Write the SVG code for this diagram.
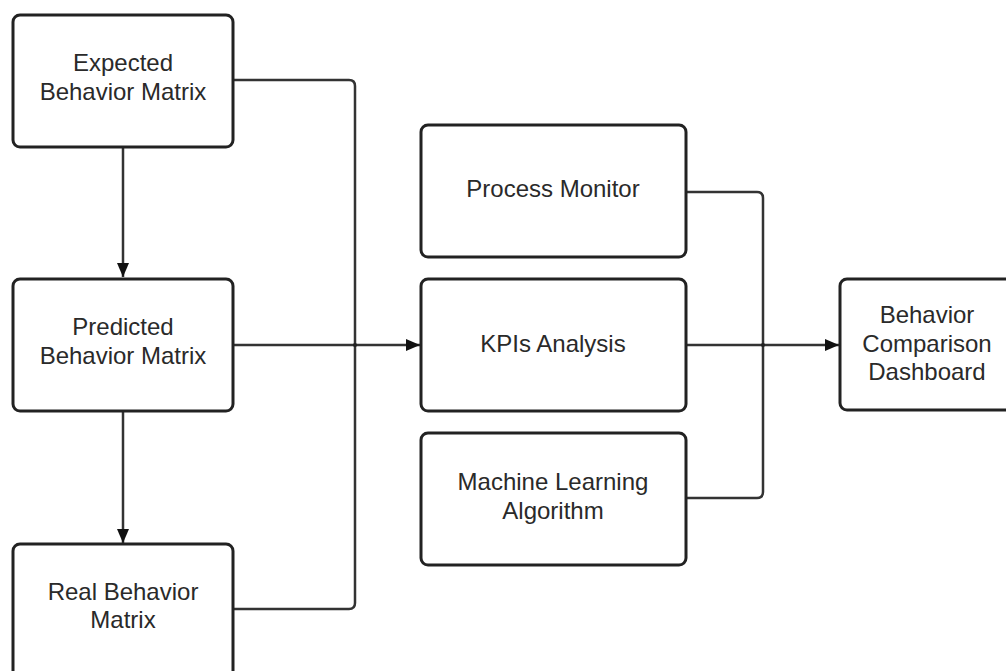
<svg xmlns="http://www.w3.org/2000/svg" width="1006" height="671" viewBox="0 0 1006 671">
<style>
.box{fill:#fff;stroke:#222;stroke-width:3}
.lbl{font-family:"Liberation Sans",Arial,sans-serif;font-size:24px;fill:#2a2a2a;text-anchor:middle}
.wire{fill:none;stroke:#333;stroke-width:2.5}
</style>
<defs>
<marker id="arr" markerWidth="14" markerHeight="12" refX="14" refY="6" orient="auto" markerUnits="userSpaceOnUse">
<path d="M0,0 L14,6 L0,12 Z" fill="#111"/>
</marker>
</defs>
<rect width="1006" height="671" fill="#fff"/>
<g id="connectors">
<path class="wire" d="M123,147 V277" marker-end="url(#arr)"/>
<path class="wire" d="M123,411 V543" marker-end="url(#arr)"/>
<path class="wire" d="M233,80 H349 Q355,80 355,86 V603 Q355,609 349,609 H233"/>
<path class="wire" d="M233,345 H420" marker-end="url(#arr)"/>
<path class="wire" d="M686,192 H757 Q763,192 763,198 V492 Q763,498 757,498 H686"/>
<path class="wire" d="M686,345 H839" marker-end="url(#arr)"/>
<circle cx="355" cy="345" r="2" fill="#222"/>
<circle cx="763" cy="345" r="2" fill="#222"/>
</g>
<g id="expected">
<rect class="box" x="13" y="15" width="220" height="132" rx="7"/>
<text class="lbl" x="123" y="71">Expected</text>
<text class="lbl" x="123" y="100">Behavior Matrix</text>
</g>
<g id="predicted">
<rect class="box" x="13" y="279" width="220" height="132" rx="7"/>
<text class="lbl" x="123" y="335">Predicted</text>
<text class="lbl" x="123" y="364">Behavior Matrix</text>
</g>
<g id="real">
<rect class="box" x="13" y="544" width="220" height="140" rx="7"/>
<text class="lbl" x="123" y="600">Real Behavior</text>
<text class="lbl" x="123" y="628">Matrix</text>
</g>
<g id="process">
<rect class="box" x="421" y="125" width="265" height="132" rx="7"/>
<text class="lbl" x="553" y="197">Process Monitor</text>
</g>
<g id="kpis">
<rect class="box" x="421" y="279" width="265" height="132" rx="7"/>
<text class="lbl" x="553" y="352">KPIs Analysis</text>
</g>
<g id="ml">
<rect class="box" x="421" y="433" width="265" height="132" rx="7"/>
<text class="lbl" x="553" y="490">Machine Learning</text>
<text class="lbl" x="553" y="519">Algorithm</text>
</g>
<g id="dashboard">
<rect class="box" x="840" y="279" width="176" height="131" rx="7"/>
<text class="lbl" x="927" y="323">Behavior</text>
<text class="lbl" x="927" y="352">Comparison</text>
<text class="lbl" x="927" y="380">Dashboard</text>
</g>
</svg>
